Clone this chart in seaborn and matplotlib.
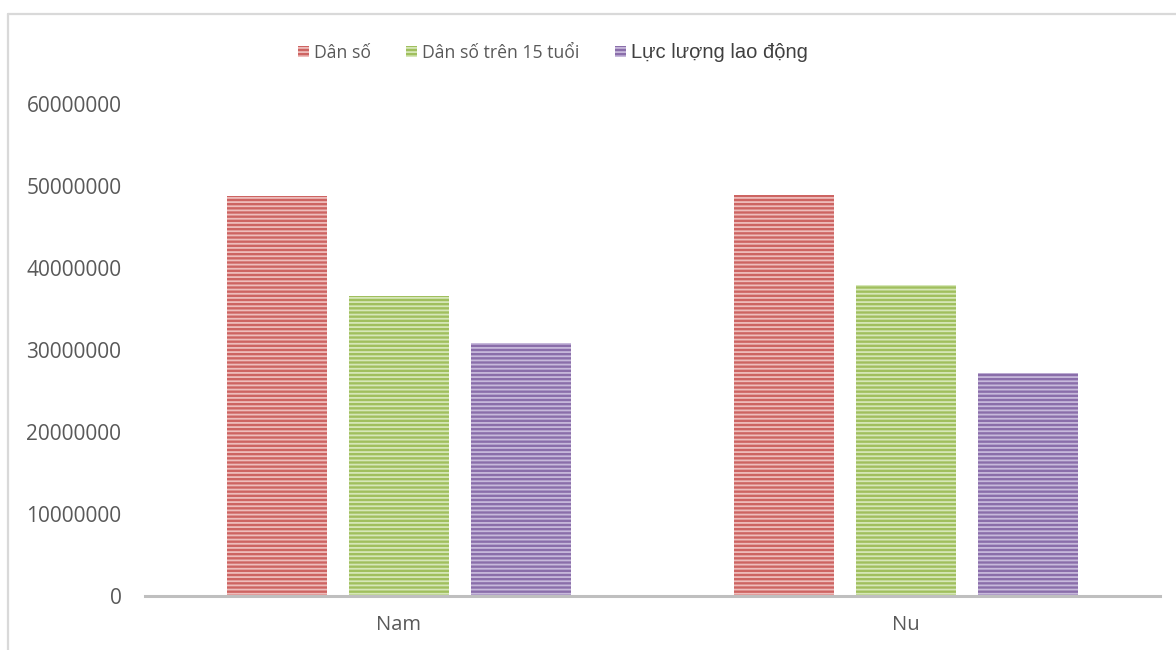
import matplotlib
matplotlib.use("Agg")
import matplotlib.pyplot as plt
import seaborn as sns
import pandas as pd
from matplotlib.patches import Patch
from matplotlib.lines import Line2D

categories = ["Nam", "Nu"]
series = ["Dân số", "Dân số trên 15 tuổi", "Lực lượng lao động"]
dan_so = [48800000, 48900000]
dan_so_15 = [36600000, 37900000]
luc_luong = [30800000, 27200000]
yticks = [0, 10000000, 20000000, 30000000, 40000000, 50000000, 60000000]

face_colors = ["#CD6462", "#A0BF5E", "#8A6EAA"]
stripe_colors = ["#EEBDBC", "#D6E7B8", "#C7B9DB"]

rows = []
for i, c in enumerate(categories):
    rows.append({"cat": c, "series": series[0], "value": dan_so[i]})
    rows.append({"cat": c, "series": series[1], "value": dan_so_15[i]})
    rows.append({"cat": c, "series": series[2], "value": luc_luong[i]})
df = pd.DataFrame(rows)

sns.set_style("white")
plt.rcParams["font.family"] = ["Open Sans", "DejaVu Sans"]
plt.rcParams["hatch.linewidth"] = 1.3

fig = plt.figure(figsize=(11.76, 6.5), dpi=100)
ax = fig.add_axes([145 / 1176, 1 - 596 / 650, (1160 - 145) / 1176, (596 - 104) / 650])

sns.barplot(data=df, x="cat", y="value", hue="series", order=categories,
            hue_order=series, palette=face_colors, width=0.721, gap=0.18,
            saturation=1, ax=ax, legend=False, errorbar=None)

for j, cont in enumerate(ax.containers):
    for p in cont.patches:
        p.set_hatch("----")
        p.set_edgecolor(stripe_colors[j])
        p.set_linewidth(0)

ax.set_ylim(0, 60000000)
ax.set_xlim(-0.5, 1.5)
ax.set_yticks(yticks)
ax.set_yticklabels([str(v) for v in yticks])
ax.set_xlabel("")
ax.set_ylabel("")
for s in ["top", "right", "left"]:
    ax.spines[s].set_visible(False)
ax.spines["bottom"].set_color("#BFBFBF")
ax.spines["bottom"].set_linewidth(2.2)
ax.tick_params(axis="y", length=0, pad=17, labelsize=15, labelcolor="#595959")
ax.tick_params(axis="x", length=0, pad=14, labelsize=14.5, labelcolor="#595959")
ax.grid(False)

handles = [Patch(facecolor=face_colors[k], edgecolor=stripe_colors[k], hatch="----", linewidth=0)
           for k in range(3)]
leg = fig.legend(handles, series, loc="center", bbox_to_anchor=(553 / 1176, 1 - 52 / 650),
                 ncol=3, frameon=False, fontsize=12.7, handlelength=0.62, handleheight=0.62,
                 handletextpad=0.3, columnspacing=2.0, borderpad=0)
for k, t in enumerate(leg.get_texts()):
    t.set_color("#595959")
t3 = leg.get_texts()[2]
t3.set_fontfamily(["Liberation Sans", "DejaVu Sans"])
t3.set_fontsize(14.5)
t3.set_color("#404040")

# chart frame (left and top edges)
fig.add_artist(Line2D([7.5 / 1176, 7.5 / 1176], [0, 1 - 13.5 / 650], transform=fig.transFigure,
                      color="#D9D9D9", linewidth=1.6))
fig.add_artist(Line2D([7.5 / 1176, 1], [1 - 13.5 / 650, 1 - 13.5 / 650], transform=fig.transFigure,
                      color="#D9D9D9", linewidth=1.6))

fig.savefig("out.png", dpi=100)
